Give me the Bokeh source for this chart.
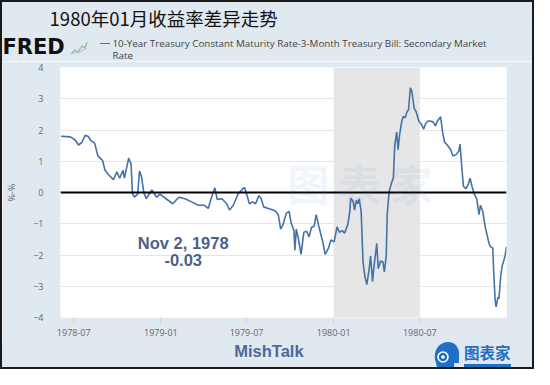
import pandas as pd
from bokeh.plotting import figure
from bokeh.layouts import column
from bokeh.models import Label, Span, BoxAnnotation, Range1d, FixedTicker, DatetimeTickFormatter, Div
from bokeh.embed import file_html
from bokeh.resources import INLINE

# ---- data (10Y - 3M T-bill, percent) ----
dates = [
    "1978-06-04", "1978-06-24", "1978-07-04", "1978-07-11", "1978-07-18", "1978-07-25", "1978-07-31",
    "1978-08-07", "1978-08-14", "1978-08-21", "1978-08-31", "1978-09-05", "1978-09-13", "1978-09-23",
    "1978-09-30", "1978-10-06", "1978-10-13", "1978-10-16", "1978-10-25", "1978-10-30", "1978-11-02",
    "1978-11-06", "1978-11-13", "1978-11-17", "1978-11-21", "1978-11-26", "1978-12-01", "1978-12-13",
    "1978-12-23", "1978-12-30", "1979-01-12", "1979-01-26", "1979-02-08", "1979-02-21", "1979-03-07",
    "1979-03-21", "1979-04-03", "1979-04-11", "1979-04-18", "1979-04-25", "1979-04-30", "1979-05-10",
    "1979-05-20", "1979-05-26", "1979-06-03", "1979-06-13", "1979-06-25", "1979-06-27", "1979-07-02",
    "1979-07-07", "1979-07-14", "1979-07-20", "1979-07-27", "1979-08-01", "1979-08-06", "1979-08-16",
    "1979-08-26", "1979-09-01", "1979-09-06", "1979-09-11", "1979-09-16", "1979-09-23", "1979-09-29",
    "1979-10-03", "1979-10-09", "1979-10-11", "1979-10-14", "1979-10-19", "1979-10-24", "1979-10-30",
    "1979-11-05", "1979-11-10", "1979-11-15", "1979-11-21", "1979-11-25", "1979-12-02", "1979-12-09",
    "1979-12-14", "1979-12-21", "1979-12-26", "1980-01-02", "1980-01-08", "1980-01-13", "1980-01-19",
    "1980-01-24", "1980-01-31", "1980-02-04", "1980-02-06", "1980-02-11", "1980-02-14", "1980-02-18",
    "1980-02-21", "1980-02-24", "1980-02-28", "1980-03-03", "1980-03-07", "1980-03-11", "1980-03-16",
    "1980-03-19", "1980-03-23", "1980-03-26", "1980-04-01", "1980-04-04", "1980-04-09", "1980-04-14",
    "1980-04-17", "1980-04-21", "1980-04-23", "1980-04-27", "1980-05-02", "1980-05-06", "1980-05-09",
    "1980-05-13", "1980-05-16", "1980-05-19", "1980-05-24", "1980-05-27", "1980-05-31", "1980-06-04",
    "1980-06-07", "1980-06-11", "1980-06-14", "1980-06-19", "1980-06-23", "1980-06-29", "1980-07-04",
    "1980-07-09", "1980-07-14", "1980-07-19", "1980-07-22", "1980-07-29", "1980-08-03", "1980-08-07",
    "1980-08-14", "1980-08-18", "1980-08-22", "1980-08-28", "1980-09-04", "1980-09-09", "1980-09-16",
    "1980-09-21", "1980-09-24", "1980-09-27", "1980-10-01", "1980-10-06", "1980-10-11", "1980-10-15",
    "1980-10-19", "1980-10-24", "1980-10-29", "1980-11-03", "1980-11-06", "1980-11-11", "1980-11-14",
    "1980-11-17", "1980-11-21", "1980-11-24", "1980-11-27", "1980-12-02", "1980-12-04", "1980-12-07",
    "1980-12-09", "1980-12-13", "1980-12-15", "1980-12-19", "1980-12-22", "1980-12-25", "1980-12-28",
    "1980-12-31",
]
spread = [
    1.80, 1.78, 1.68, 1.52, 1.60, 1.83, 1.80,
    1.65, 1.58, 1.17, 1.02, 0.71, 0.56, 0.41,
    0.66, 0.46, 0.71, 0.46, 1.10, 0.91, -0.03,
    -0.15, -0.05, 0.69, 0.51, 0.00, -0.20, 0.08,
    -0.15, -0.05, -0.20, -0.36, -0.15, -0.20, -0.30,
    -0.41, -0.41, -0.51, -0.15, 0.15, -0.22, -0.20,
    -0.36, -0.56, -0.41, -0.05, 0.15, 0.15, -0.10,
    -0.36, -0.30, -0.36, -0.10, -0.20, -0.46, -0.51,
    -0.56, -0.61, -0.71, -1.17, -1.02, -0.66, -0.61,
    -0.97, -1.22, -1.85, -1.17, -1.52, -1.98, -1.27,
    -1.24, -1.42, -1.12, -1.07, -0.71, -1.17, -1.58,
    -1.98, -1.78, -1.52, -1.58, -1.10, -1.27, -1.22,
    -1.30, -1.02, -0.61, -0.18, -0.28, -0.56, -0.25,
    -0.36, -0.20, -0.61, -2.24, -2.69, -2.95, -2.44,
    -2.03, -2.85, -2.39, -1.63, -2.44, -2.19, -2.22,
    -2.54, -2.03, -0.71, 0.02, 0.30, 0.46, 1.52,
    1.93, 1.37, 1.83, 2.29, 2.44, 2.39, 2.59,
    2.64, 3.35, 3.25, 2.69, 2.59, 2.28, 2.19,
    2.03, 2.23, 2.29, 2.29, 2.26, 2.13, 2.29,
    2.42, 1.93, 1.62, 1.52, 1.37, 1.17, 1.22,
    1.32, 1.55, 0.91, 0.20, 0.12, 0.25, 0.46,
    0.20, -0.05, -0.20, -0.71, -0.41, -0.61, -0.91,
    -1.17, -1.42, -1.63, -1.73, -1.78, -2.54, -3.45,
    -3.66, -3.35, -3.40, -2.64, -2.34, -2.19, -2.03,
    -1.73,
]
tick_dates = ["1978-07-01", "1979-01-01", "1979-07-01", "1980-01-01", "1980-07-01"]
y_ticks = [-4, -3, -2, -1, 0, 1, 2, 3, 4]
recession = ["1980-01-01", "1980-07-01"]
x_window = ["1978-06-03", "1980-12-31"]
title_text = "1980年01月收益率差异走势"
legend_text = "10-Year Treasury Constant Maturity Rate-3-Month Treasury Bill: Secondary Market"
legend_text2 = "Rate"
note_date = "Nov 2, 1978"
note_value = "-0.03"
source_text = "MishTalk"
logo_text = "图表家"
y_label = "%-%"

BG = "#e0e8f0"
W = 530
TOP_H, FIG_H, BOT_H = 59, 281, 25
BL, BR, BT, BB = 53, 26, 6, 25


def fx(X):   # reference pixel -> inner layout pixel
    return (X - 2) * 530 / 546


def fy(Y):
    return (Y - 2) * 365 / 381


def span(cx, cy, text, size, color, font, weight="normal", align="left", lh=None):
    lh = lh or round(size * 1.3)
    top = cy - lh / 2
    if align == "center":
        left, extra = cx - 150, "width:300px;text-align:center;"
    else:
        left, extra = cx, "white-space:nowrap;"
    return (f'<div style="position:absolute;left:{left:.1f}px;top:{top:.1f}px;height:{lh}px;'
            f'line-height:{lh}px;font-family:\'{font}\';font-size:{size}px;font-weight:{weight};'
            f'color:{color};{extra}">{text}</div>')


# ---- top block: title, FRED mark, legend ----
icon_svg = ('<svg style="position:absolute;left:68px;top:38px" width="18" height="15">'
            '<polyline points="1,14 5,10 8,12 12,6 15,8 17,2" fill="none" stroke="#8fbf8f" stroke-width="1.3"/>'
            '<polyline points="1,14 5,12 9,13 13,10 17,8" fill="none" stroke="#b8c4cc" stroke-width="1.1"/>'
            '</svg>')
top_html = (f'<div style="position:relative;width:{W}px;height:{TOP_H}px;background:{BG};overflow:hidden">'
            + span(fx(51), fy(19), title_text, 18.5, "#111111", "Noto Sans CJK SC")
            + span(0.5, fy(49.6), "FRED", 21, "#111111", "DejaVu Sans", weight="bold")
            + icon_svg
            + f'<div style="position:absolute;left:97.5px;top:{fy(46) - 1:.1f}px;width:10px;height:0;'
              f'border-top:1.6px solid #4572a7"></div>'
            + span(110.5, 41.5, legend_text, 9.8, "#444444", "Open Sans", lh=11)
            + span(110.5, 53, legend_text2, 9.8, "#444444", "Open Sans", lh=11)
            + '</div>')
top = Div(text=top_html, width=W, height=TOP_H, margin=0, styles={"background-color": BG})

# ---- main chart ----
p = figure(width=W, height=FIG_H, x_axis_type="datetime", output_backend="svg",
           toolbar_location=None,
           x_range=Range1d(pd.Timestamp(x_window[0]), pd.Timestamp(x_window[1])),
           y_range=Range1d(-4, 4),
           min_border_left=BL, min_border_right=BR, min_border_top=BT, min_border_bottom=BB)
p.background_fill_color = "white"
p.border_fill_color = BG
p.outline_line_color = None

p.add_layout(BoxAnnotation(left=pd.Timestamp(recession[0]), right=pd.Timestamp(recession[1]),
                           fill_color="#e6e6e6", fill_alpha=1.0, line_color=None, level="underlay"))

p.xgrid.grid_line_color = None
p.ygrid.grid_line_color = "#e6e6e6"
p.ygrid.ticker = FixedTicker(ticks=y_ticks)

p.line(pd.to_datetime(dates), spread, line_color="#4572a7", line_width=1.6)
p.add_layout(Span(location=0, dimension="width", line_color="black", line_width=2))

xa = p.xaxis[0]
xa.ticker = FixedTicker(ticks=[pd.Timestamp(d).value / 1e6 for d in tick_dates])
xa.formatter = DatetimeTickFormatter(days="%Y-%m", months="%Y-%m", years="%Y-%m")
xa.axis_line_color = None
xa.major_tick_line_color = "#ccd6eb"
xa.major_tick_out = 6
xa.major_tick_in = 0
xa.minor_tick_line_color = None
xa.major_label_text_font = "Open Sans"
xa.major_label_text_font_size = "9px"
xa.major_label_text_color = "#666666"
xa.major_label_standoff = 5

ya = p.yaxis[0]
ya.ticker = FixedTicker(ticks=y_ticks)
ya.axis_line_color = None
ya.major_tick_line_color = None
ya.minor_tick_line_color = None
ya.major_label_text_font = "Open Sans"
ya.major_label_text_font_size = "9px"
ya.major_label_text_color = "#666666"
ya.major_label_standoff = 11
ya.axis_label = y_label
ya.axis_label_text_font = "Open Sans"
ya.axis_label_text_font_size = "9px"
ya.axis_label_text_font_style = "normal"
ya.axis_label_text_color = "#666666"
ya.axis_label_standoff = 12

FRAME_L = BL
FRAME_B = TOP_H + FIG_H - BB   # frame bottom in layout pixels


def lab(X, Y, text, size, color, font="Liberation Sans", style="normal", align="center",
        alpha=1.0, level="annotation"):
    p.add_layout(Label(x=fx(X) - FRAME_L, y=FRAME_B - fy(Y), x_units="screen", y_units="screen",
                       text=text, text_font=font, text_font_size=f"{size}px", text_color=color,
                       text_font_style=style, text_align=align, text_baseline="middle",
                       text_alpha=alpha, level=level))


lab(183, 253, note_date, 16.5, "#4b6288", style="bold")
lab(183, 271, note_value, 16.5, "#4b6288", style="bold")
lab(365, 190, "图 表 家", 42, "#5b9bd5", font="Noto Sans CJK SC", style="bold", alpha=0.10, level="overlay")

# ---- bottom block: source and logo ----
b0 = TOP_H + FIG_H
head_svg = (f'<svg style="position:absolute;left:{fx(445):.1f}px;top:{fy(356) - b0:.1f}px" width="28" height="30">'
            '<path d="M4,22 C0,12 6,1 16,1 C24,1 28,8 27,15 L27,22 L22,22 L22,30 L6,30 Z" fill="#1f6fc5"/>'
            '<circle cx="11" cy="16" r="5" fill="none" stroke="white" stroke-width="1.6"/>'
            '<circle cx="11" cy="16" r="1.8" fill="white"/>'
            '</svg>')
bot_html = (f'<div style="position:relative;width:{W}px;height:{BOT_H}px;background:{BG};overflow:hidden">'
            + span(fx(277), fy(367) - b0, source_text, 16.5, "#4d6a99", "Liberation Sans",
                   weight="bold", align="center", lh=19)
            + head_svg
            + span(fx(502), fy(368) - b0, logo_text, 15.5, "#1f6fc5", "Noto Sans CJK SC",
                   weight="bold", align="center", lh=19)
            + f'<div style="position:absolute;left:{fx(478):.1f}px;top:{fy(380) - b0:.1f}px;width:47px;'
              f'height:4px;background:#1f6fc5"></div>'
            + '</div>')
bottom = Div(text=bot_html, width=W, height=BOT_H, margin=0, styles={"background-color": BG})

layout = column(top, p, bottom, spacing=0, styles={"border": "2px solid #1a1a1a"})

open("out.html", "w").write(file_html(layout, INLINE))
